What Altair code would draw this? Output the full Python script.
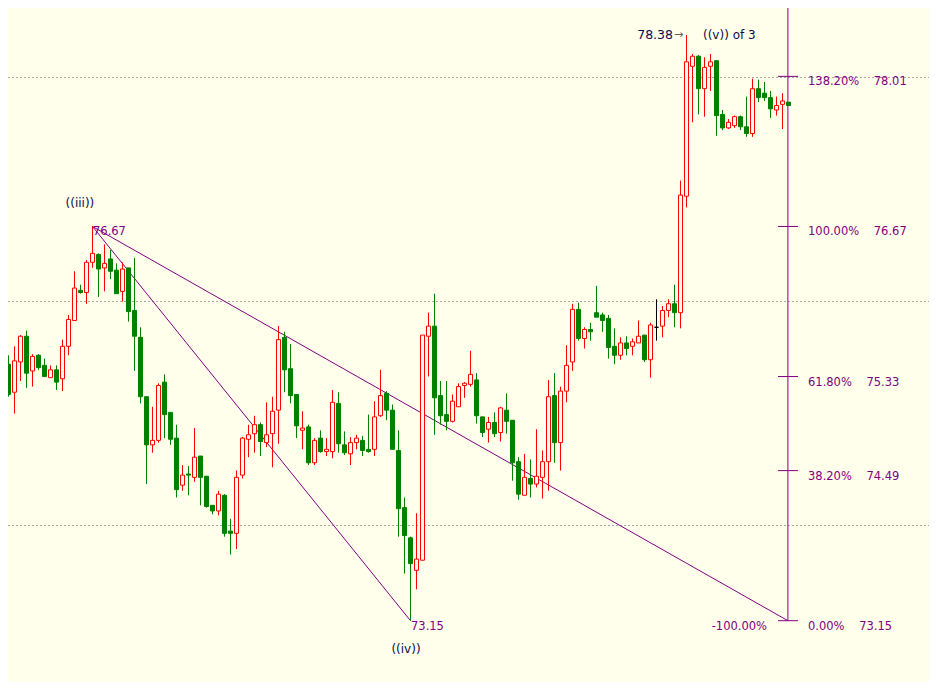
import altair as alt
import pandas as pd

BG = "#FFFFEC"
GREEN = "#008000"
RED = "#FF0000"
PURPLE = "#800080"
NAVY = "#0B0B4A"
FONT = "DejaVu Sans"

# OHLC per bar (bar index = position in list)
opens = [75.69, 75.44, 75.19, 75.46, 75.69, 75.38, 75.52, 75.43, 75.32, 75.39,
         75.31, 75.60, 75.83, 76.10, 76.08, 76.35, 76.42, 76.30, 76.38, 76.28,
         76.09, 76.30, 75.92, 75.68, 75.15, 74.72, 74.76, 75.28, 75.01, 74.78,
         74.36, 74.46, 74.43, 74.62, 74.44, 74.18, 74.13, 74.27, 73.95, 73.93,
         74.45, 74.77, 74.82, 74.90, 74.74, 74.82, 75.03, 75.68, 75.40, 75.17,
         74.85, 74.88, 74.56, 74.78, 74.66, 74.66, 75.09, 74.72, 74.64, 74.74,
         74.76, 74.68, 74.68, 74.98, 75.18, 75.03, 74.67, 74.16, 73.89, 73.60,
         73.69, 75.69, 75.78, 75.16, 74.99, 74.93, 75.06, 75.25, 75.26, 75.30,
         74.97, 74.86, 74.92, 74.83, 75.03, 74.94, 74.57, 74.27, 74.42, 74.37,
         74.43, 74.57, 75.16, 74.74, 75.20, 75.46, 75.93, 75.67, 75.75, 75.90,
         75.88, 75.85, 75.60, 75.52, 75.63, 75.60, 75.63, 75.70, 75.48, 75.77,
         75.78, 75.92, 75.98, 75.90, 76.94, 78.10, 78.19, 77.90, 78.10, 78.15,
         77.67, 77.55, 77.57, 77.65, 77.56, 77.50, 77.90, 77.86, 77.82, 77.71,
         77.76, 77.78]
highs = [75.72, 75.52, 75.60, 75.70, 75.74, 75.53, 75.53, 75.49, 75.43, 75.43,
         75.66, 75.88, 76.27, 76.15, 76.37, 76.67, 76.43, 76.51, 76.46, 76.34,
         76.35, 76.30, 76.39, 75.77, 75.15, 75.06, 75.27, 75.35, 75.01, 74.90,
         74.54, 74.53, 74.87, 74.62, 74.44, 74.18, 74.31, 74.28, 74.06, 74.49,
         74.79, 74.90, 74.98, 74.92, 75.10, 75.15, 75.78, 75.73, 75.62, 75.17,
         75.02, 74.90, 74.78, 74.85, 74.78, 75.21, 75.19, 74.84, 74.79, 74.81,
         74.80, 74.99, 75.11, 75.39, 75.20, 75.08, 74.85, 74.25, 73.90, 74.11,
         75.70, 75.90, 76.07, 75.29, 75.29, 75.17, 75.27, 75.28, 75.56, 75.36,
         74.97, 74.97, 75.01, 75.06, 75.18, 74.94, 74.61, 74.64, 74.59, 74.86,
         74.67, 75.30, 75.36, 75.24, 75.61, 75.98, 75.99, 75.77, 75.81, 76.14,
         75.90, 75.88, 75.76, 75.68, 75.69, 75.67, 75.83, 75.70, 75.81, 76.02,
         75.96, 76.02, 76.15, 77.08, 78.38, 78.21, 78.20, 78.18, 78.21, 78.15,
         77.71, 77.63, 77.66, 77.66, 77.83, 77.99, 77.98, 77.96, 77.88, 77.83,
         77.86, 77.78]
lows = [75.14, 75.15, 75.00, 75.29, 75.23, 75.24, 75.39, 75.33, 75.32, 75.21,
        75.20, 75.52, 75.83, 76.07, 75.98, 76.30, 76.04, 76.09, 76.20, 76.07,
        76.00, 75.82, 75.38, 75.09, 74.37, 74.65, 74.74, 74.78, 74.72, 74.25,
        74.31, 74.27, 74.39, 74.18, 74.16, 74.10, 74.09, 73.90, 73.74, 73.79,
        74.42, 74.61, 74.65, 74.62, 74.70, 74.52, 74.73, 75.19, 75.09, 74.78,
        74.68, 74.54, 74.54, 74.65, 74.62, 74.60, 74.65, 74.63, 74.54, 74.68,
        74.62, 74.65, 74.62, 74.97, 74.94, 74.68, 73.90, 73.57, 73.15, 73.43,
        73.69, 75.33, 74.81, 74.90, 74.85, 74.92, 75.06, 75.14, 75.24, 74.91,
        74.79, 74.74, 74.79, 74.75, 74.82, 74.40, 74.23, 74.27, 74.25, 74.34,
        74.24, 74.31, 74.56, 74.49, 75.10, 75.38, 75.65, 75.58, 75.65, 75.86,
        75.73, 75.49, 75.44, 75.48, 75.52, 75.52, 75.63, 75.46, 75.32, 75.65,
        75.68, 75.86, 75.77, 75.76, 76.84, 77.60, 77.67, 77.65, 77.88, 77.48,
        77.53, 77.54, 77.55, 77.53, 77.47, 77.47, 77.78, 77.79, 77.64, 77.66,
        77.54, 77.75]
closes = [75.46, 75.17, 75.47, 75.69, 75.36, 75.51, 75.41, 75.33, 75.39, 75.28,
          75.60, 75.84, 76.12, 76.08, 76.35, 76.43, 76.29, 76.34, 76.27, 76.07,
          76.29, 75.91, 75.69, 75.15, 74.72, 74.76, 75.25, 74.99, 74.77, 74.32,
          74.45, 74.45, 74.61, 74.43, 74.17, 74.13, 74.28, 73.93, 73.93, 74.43,
          74.78, 74.81, 74.90, 74.75, 74.81, 75.02, 75.66, 75.39, 75.16, 74.89,
          74.87, 74.56, 74.76, 74.66, 74.68, 75.10, 74.73, 74.65, 74.74, 74.78,
          74.67, 74.66, 74.97, 75.16, 75.03, 74.68, 74.15, 73.91, 73.66, 73.70,
          75.70, 75.78, 75.14, 74.98, 74.93, 75.11, 75.24, 75.27, 75.35, 74.98,
          74.83, 74.92, 74.82, 75.05, 74.93, 74.56, 74.28, 74.43, 74.37, 74.44,
          74.57, 75.15, 74.74, 75.20, 75.43, 75.93, 75.67, 75.75, 75.73, 75.86,
          75.83, 75.59, 75.52, 75.63, 75.58, 75.64, 75.69, 75.48, 75.79, 75.77,
          75.92, 75.98, 75.90, 76.95, 78.14, 78.19, 77.90, 78.09, 78.14, 77.66,
          77.55, 77.60, 77.65, 77.56, 77.50, 77.90, 77.82, 77.82, 77.72, 77.75,
          77.79, 77.75]

grid_prices = [74, 76, 78]
fib_levels = [73.15, 74.49, 75.33, 76.67, 78.01]
fib_pcts = ["0.00%", "38.20%", "61.80%", "100.00%", "138.20%"]

swing_high, swing_high_bar = 76.67, 15
swing_low, swing_low_bar = 73.15, 68
fib_bar = 130.9
peak = 78.38

n = len(opens)
direction = ["up" if c > o else ("down" if c < o else "doji") for o, c in zip(opens, closes)]
df = pd.DataFrame({"i": list(range(n)), "open": opens, "high": highs,
                   "low": lows, "close": closes, "dir": direction})

xs = alt.Scale(domain=[0.9167, 154.4167], nice=False, zero=False, padding=0)
ys = alt.Scale(domain=[72.6027, 78.6205], nice=False, zero=False, padding=0)
stroke_scale = alt.Scale(domain=["up", "down", "doji"], range=[RED, GREEN, "#000000"])
fill_scale = alt.Scale(domain=["up", "down", "doji"], range=[BG, GREEN, "#000000"])


def X(f):
    return alt.X(f, type="quantitative", scale=xs, axis=None)


def Y(f):
    return alt.Y(f, type="quantitative", scale=ys, axis=None)


grid = alt.Chart(pd.DataFrame({"p": grid_prices})).mark_rule(
    color="#A8A8A8", strokeDash=[2, 2], strokeWidth=1
).encode(y=Y("p"), x=alt.value(0), x2=alt.value(921))

trend_df = pd.DataFrame({
    "x0": [swing_high_bar, swing_high_bar], "y0": [swing_high, swing_high],
    "x1": [swing_low_bar, fib_bar], "y1": [swing_low, swing_low]})
trend = alt.Chart(trend_df).mark_rule(color=PURPLE, strokeWidth=1).encode(
    x=X("x0"), y=Y("y0"), x2="x1", y2="y1")

fib_df = pd.DataFrame({"lvl": fib_levels, "pct": fib_pcts})
fib_df["x"] = fib_bar
fib_df["xl"] = fib_bar - 1.65
fib_df["xr"] = fib_bar + 1.68
fib_df["label"] = [p + "\u00a0" * 4 + f"{v:.2f}" for p, v in zip(fib_pcts, fib_levels)]
fib_df["lx"] = fib_bar + 3.35

fib_vert = alt.Chart(pd.DataFrame({"x": [fib_bar], "y": [swing_low]})).mark_rule(
    color=PURPLE, strokeWidth=1).encode(x=X("x"), y=Y("y"), y2=alt.value(0))
fib_ticks = alt.Chart(fib_df).mark_rule(color=PURPLE, strokeWidth=1).encode(
    x=X("xl"), x2="xr", y=Y("lvl"))
fib_text = alt.Chart(fib_df).mark_text(
    align="left", baseline="top", font=FONT, fontSize=11.5, color=PURPLE, dy=0
).encode(x=X("lx"), y=Y("lvl"), text="label:N")

wicks = alt.Chart(df).mark_rule(strokeWidth=1).encode(
    x=X("i"), y=Y("low"), y2="high",
    stroke=alt.Stroke("dir:N", scale=stroke_scale, legend=None))
bodies = alt.Chart(df).mark_bar(width=4, strokeWidth=1).encode(
    x=X("i"), y=Y("open"), y2="close",
    fill=alt.Fill("dir:N", scale=fill_scale, legend=None),
    stroke=alt.Stroke("dir:N", scale=stroke_scale, legend=None))

# price annotations (purple)
price_lbl = pd.DataFrame({"x": [swing_high_bar, swing_low_bar],
                          "y": [swing_high, swing_low],
                          "t": [f"{swing_high:.2f}", f"{swing_low:.2f}"]})
price_text = alt.Chart(price_lbl).mark_text(
    align="left", baseline="top", font=FONT, fontSize=11.5, color=PURPLE, dx=0.5
).encode(x=X("x"), y=Y("y"), text="t:N")

minus_text = alt.Chart(pd.DataFrame({"x": [127.42], "y": [swing_low], "t": ["-100.00%"]})).mark_text(
    align="right", baseline="top", font=FONT, fontSize=11.5, color=PURPLE
).encode(x=X("x"), y=Y("y"), text="t:N")

# wave labels
wave_c = pd.DataFrame({"x": [12.9, 67.25], "y": [76.88, 72.90], "t": ["((iii))", "((iv))"]})
wave_center = alt.Chart(wave_c).mark_text(
    align="center", baseline="middle", font=FONT, fontSize=12, color=NAVY
).encode(x=X("x"), y=Y("y"), text="t:N")
wave_v = alt.Chart(pd.DataFrame({"x": [116.75], "y": [peak], "t": ["((v)) of 3"]})).mark_text(
    align="left", baseline="middle", font=FONT, fontSize=12, color=NAVY
).encode(x=X("x"), y=Y("y"), text="t:N")
peak_text = alt.Chart(pd.DataFrame({"x": [111.75], "y": [peak], "t": [f"{peak:.2f}"]})).mark_text(
    align="right", baseline="middle", font=FONT, fontSize=12.5, color=NAVY
).encode(x=X("x"), y=Y("y"), text="t:N")
peak_arrow = alt.Chart(pd.DataFrame({"x": [111.9], "y": [peak], "t": ["\u2192"]})).mark_text(
    align="left", baseline="middle", font=FONT, fontSize=11, color="#606060"
).encode(x=X("x"), y=Y("y"), text="t:N")

chart = alt.layer(
    grid, trend, fib_vert, fib_ticks, wicks, bodies,
    fib_text, price_text, minus_text, wave_center, wave_v, peak_text, peak_arrow
).properties(
    width=921, height=674, padding=0, autosize="none"
).configure(background=BG).configure_view(strokeWidth=0)

chart.save("out.html", embed_options={"renderer": "svg", "actions": False})
